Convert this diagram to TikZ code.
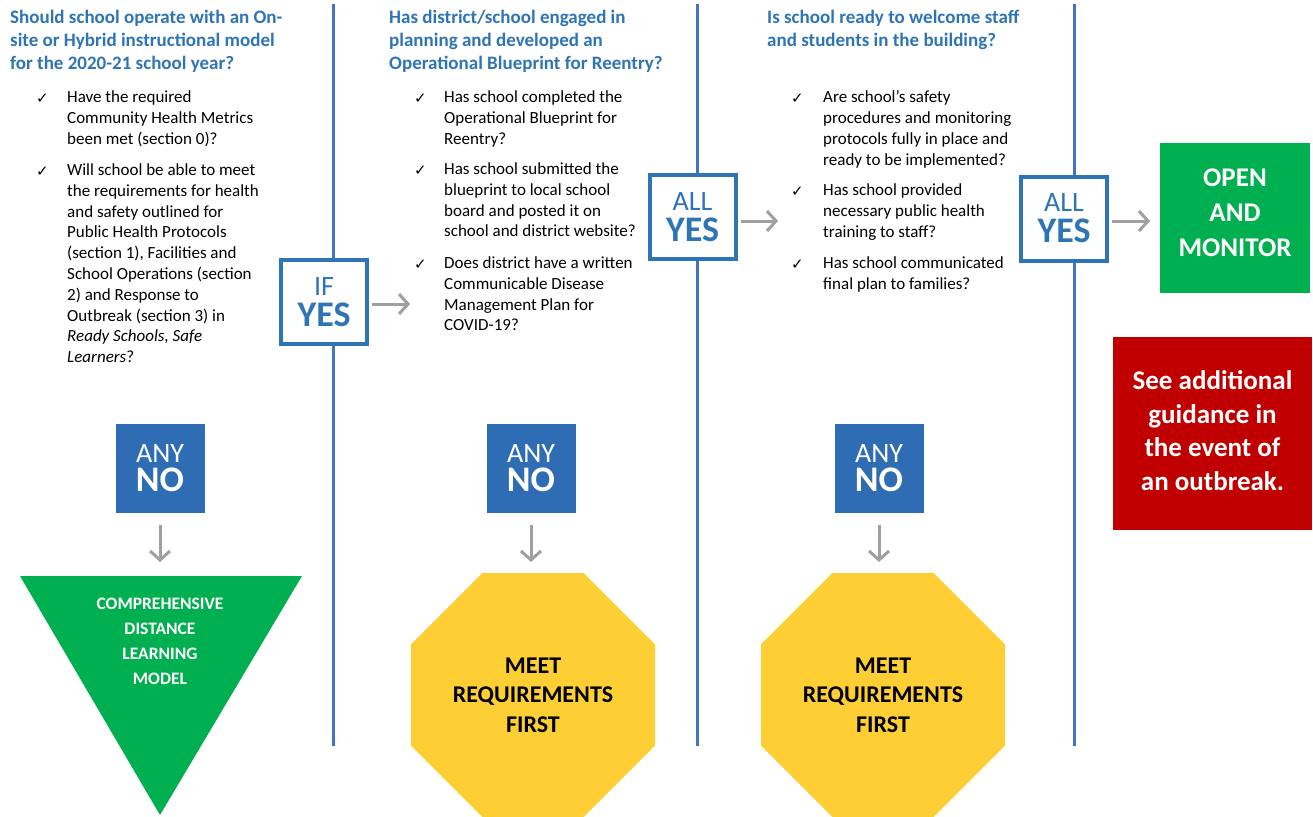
\documentclass[tikz,border=0pt]{standalone}
\usepackage{fontspec}
\setmainfont{Carlito}
\newfontfamily\djv{DejaVu Sans}
\usetikzlibrary{shapes.geometric,arrows.meta}
\definecolor{hblue}{HTML}{2E75B6}
\definecolor{lblue}{HTML}{4472C4}
\definecolor{nblue}{HTML}{2E6DB4}
\definecolor{agray}{HTML}{A0A0A0}
\definecolor{dgreen}{HTML}{00B050}
\definecolor{oyellow}{HTML}{FDCF35}
\definecolor{dred}{HTML}{C00000}
\begin{document}
\begin{tikzpicture}[x=1pt,y=-1pt,
  heading/.style={anchor=north west, align=left, inner sep=0, font=\fontsize{19}{23}\selectfont\bfseries, text=hblue, execute at begin node=\strut},
  item/.style={anchor=north west, align=left, inner sep=0, font=\fontsize{17}{20.8}\selectfont, execute at begin node=\strut},
  chk/.style={anchor=base west, inner sep=0, font=\djv\fontsize{15}{15}\selectfont},
  yesbox/.style={draw=hblue, line width=4pt, fill=white, minimum width=86pt, minimum height=84pt, inner sep=0, align=center, text=hblue, font=\fontsize{28}{31}\selectfont},
  nobox/.style={fill=nblue, minimum width=89pt, minimum height=89pt, inner sep=0, align=center, text=white, font=\fontsize{28}{29}\selectfont},
  arr/.style={draw=agray, line width=3pt, -{Straight Barb[length=9pt,width=20pt]}},
  divider/.style={draw=lblue, line width=3pt},
  octo/.style={regular polygon, regular polygon sides=8, minimum size=264.1pt, inner sep=0, outer sep=0, fill=oyellow, align=center, font=\fontsize{24}{29.5}\selectfont\bfseries},
]
\useasboundingbox[fill=white] (0,0) rectangle (1313,816);

% dividers
\coordinate (v1t) at (333,4);  \coordinate (v1b) at (333,746);
\coordinate (v2t) at (697,4);  \coordinate (v2b) at (697,746);
\coordinate (v3t) at (1074,4); \coordinate (v3b) at (1074,746);
\draw[divider] (v1t) -- (v1b);
\draw[divider] (v2t) -- (v2b);
\draw[divider] (v3t) -- (v3b);

% column 1
\node[heading] (h1) at (10,9.9) {Should school operate with an On-\\site or Hybrid instructional model\\for the 2020-21 school year?};
\node[chk] (c11) at (36,103) {✓};
\node[item] (i11) at (67,90.44) {Have the required\\Community Health Metrics\\been met (section 0)?};
\node[chk] (c12) at (36,176) {✓};
\node[item] (i12) at (67,163.44) {Will school be able to meet\\the requirements for health\\and safety outlined for\\Public Health Protocols\\(section 1), Facilities and\\School Operations (section\\2) and Response to\\Outbreak (section 3) in\\\textit{Ready Schools, Safe}\\\textit{Learners}?};

% column 2
\node[heading] (h2) at (389,9.9) {Has district/school engaged in\\planning and developed an\\Operational Blueprint for Reentry?};
\node[chk] (c21) at (414,103) {✓};
\node[item] (i21) at (444,90.44) {Has school completed the\\Operational Blueprint for\\Reentry?};
\node[chk] (c22) at (414,175) {✓};
\node[item] (i22) at (444,162.44) {Has school submitted the\\blueprint to local school\\board and posted it on\\school and district website?};
\node[chk] (c23) at (414,269) {✓};
\node[item] (i23) at (444,256.44) {Does district have a written\\Communicable Disease\\Management Plan for\\COVID-19?};

% column 3
\node[heading] (h3) at (767,9.9) {Is school ready to welcome staff\\and students in the building?};
\node[chk] (c31) at (791,103) {✓};
\node[item] (i31) at (823,90.44) {Are school’s safety\\procedures and monitoring\\protocols fully in place and\\ready to be implemented?};
\node[chk] (c32) at (791,196) {✓};
\node[item] (i32) at (823,183.44) {Has school provided\\necessary public health\\training to staff?};
\node[chk] (c33) at (791,269) {✓};
\node[item] (i33) at (823,256.44) {Has school communicated\\final plan to families?};

% yes boxes
\node[yesbox] (ifyes) at (324,302) {IF\\{\fontsize{36}{31}\selectfont\bfseries YES}};
\node[yesbox] (allyes1) at (692.5,217) {ALL\\{\fontsize{36}{31}\selectfont\bfseries YES}};
\node[yesbox] (allyes2) at (1064,218.5) {ALL\\{\fontsize{36}{31}\selectfont\bfseries YES}};

\coordinate (a1) at (410,304);
\coordinate (a2) at (778,221);
\coordinate (a3) at (1150,221);
\draw[arr, shorten <=3pt] (ifyes.east |- a1) -- (a1);
\draw[arr, shorten <=3pt] (allyes1.east |- a2) -- (a2);
\draw[arr, shorten <=3pt] (allyes2.east |- a3) -- (a3);

% outcomes right
\node[fill=dgreen, minimum width=150pt, minimum height=150pt, inner sep=0, text=white, align=center, text depth=10pt, font=\fontsize{27}{35}\selectfont\bfseries] (open) at (1235,218) {OPEN\\AND\\MONITOR};
\node[fill=dred, minimum width=199pt, minimum height=193pt, inner sep=0, text=white, align=center, text depth=6pt, font=\fontsize{27}{33.7}\selectfont\bfseries] (outbreak) at (1212.5,433.5) {See additional\\guidance in\\the event of\\an outbreak.};

% any no boxes
\node[nobox] (no1) at (160,468.5) {ANY\\{\fontsize{36}{29}\selectfont\bfseries NO}};
\node[nobox] (no2) at (531,468.5) {ANY\\{\fontsize{36}{29}\selectfont\bfseries NO}};
\node[nobox] (no3) at (879,468.5) {ANY\\{\fontsize{36}{29}\selectfont\bfseries NO}};

% triangle
\coordinate (tl) at (20,576);
\coordinate (tr) at (302,576);
\coordinate (tb) at (160,815);
\coordinate (tritop) at (160,576);
\fill[dgreen] (tl) -- (tr) -- (tb) -- cycle;
\node[align=center, inner sep=0, text=white, font=\fontsize{17.5}{25}\selectfont\bfseries] (tritext) at (160,641) {COMPREHENSIVE\\DISTANCE\\LEARNING\\MODEL};

% octagons
\node[octo] (oct1) at (533,695) {MEET\\REQUIREMENTS\\FIRST};
\node[octo] (oct2) at (883,695) {MEET\\REQUIREMENTS\\FIRST};

% down arrows
\draw[arr, shorten <=12pt, shorten >=14pt] (no1.south) -- (tritop);
\draw[arr, shorten <=12pt, shorten >=11pt] (no2.south) -- (no2.south |- oct1.north);
\draw[arr, shorten <=12pt, shorten >=11pt] (no3.south) -- (no3.south |- oct2.north);
\end{tikzpicture}
\end{document}
